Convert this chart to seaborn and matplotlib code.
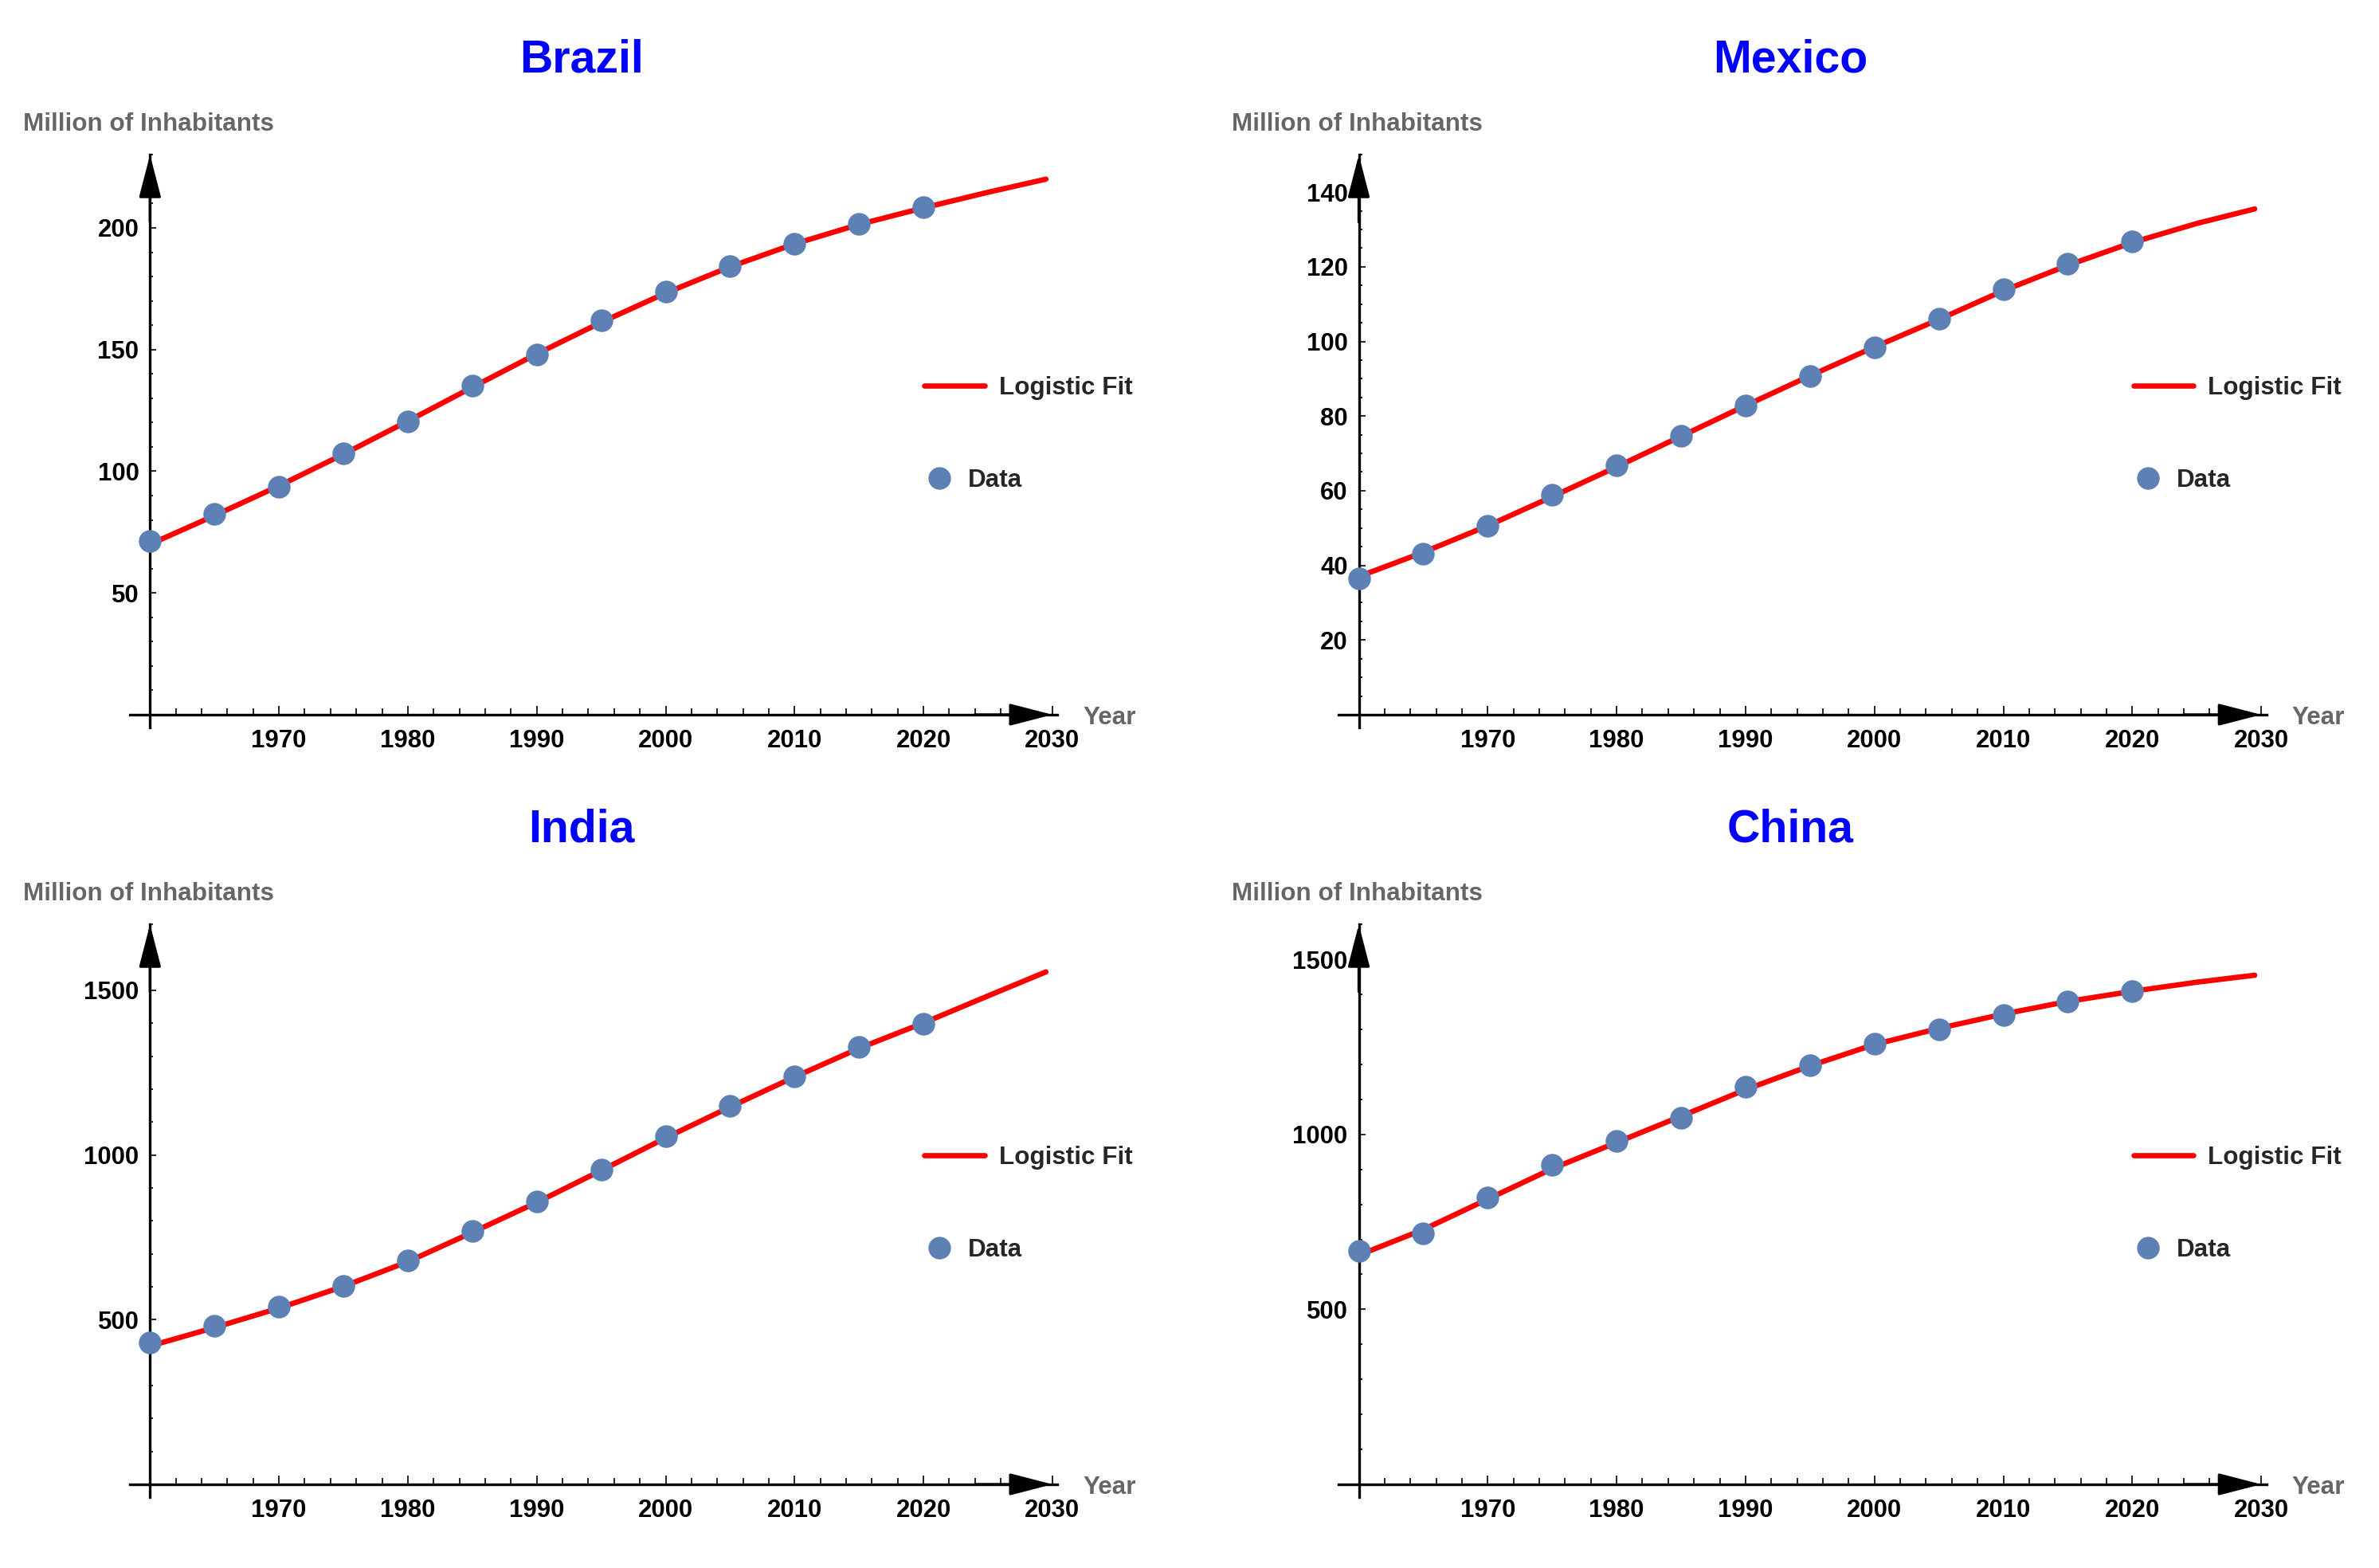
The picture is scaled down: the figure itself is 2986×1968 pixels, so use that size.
#Population of four countries with a logistic fit

#Import libraries
import matplotlib
matplotlib.use('Agg')
import matplotlib.pyplot as plt
import seaborn as sns
from matplotlib.ticker import MultipleLocator
from matplotlib.lines import Line2D

#Data (million of inhabitants)
years = [1960, 1965, 1970, 1975, 1980, 1985, 1990, 1995, 2000, 2005, 2010, 2015, 2020]
fit_years = [1960, 1965, 1970, 1975, 1980, 1985, 1990, 1995, 2000, 2005, 2010,
             2015, 2020, 2025, 2029.5]

brazil_data = [71.3, 82.4, 93.7, 107.5, 120.5, 135.1, 147.9, 161.9, 173.8, 184.3,
               193.5, 201.5, 208.4]
brazil_fit = [70.0, 81.8, 94.0, 107.0, 120.6, 134.5, 148.2, 161.2, 173.2, 184.0,
              193.4, 201.4, 208.2, 214.6, 220.0]

mexico_data = [36.4, 43.1, 50.5, 59.0, 66.9, 74.8, 82.8, 90.7, 98.5, 106.0, 113.9,
               120.8, 126.8]
mexico_fit = [37.0, 43.5, 50.6, 58.4, 66.4, 74.6, 82.8, 90.8, 98.5, 105.9, 113.6,
              120.4, 126.5, 131.6, 135.5]

india_data = [430, 481, 539, 603, 679, 769, 858, 955, 1058, 1148, 1238, 1327, 1399]
india_fit = [420, 476, 535, 601, 676, 765, 856, 953, 1052, 1146, 1237, 1324, 1401,
             1483, 1556]

china_data = [667, 717, 819, 914, 982, 1048, 1137, 1198, 1259, 1300, 1342, 1379, 1410]
china_fit = [655, 728, 815, 902, 977, 1052, 1128, 1196, 1257, 1303, 1344, 1380, 1409,
             1435, 1455]

countries = ['Brazil', 'Mexico', 'India', 'China']
data_sets = [brazil_data, mexico_data, india_data, china_data]
fit_sets = [brazil_fit, mexico_fit, india_fit, china_fit]
y_tops = [230, 150, 1700, 1600]
y_ticks = [[50, 100, 150, 200], [20, 40, 60, 80, 100, 120, 140],
           [500, 1000, 1500], [500, 1000, 1500]]
y_minor = [10, 5, 100, 100]
x_ticks = [1970, 1980, 1990, 2000, 2010, 2020, 2030]

#Style
sns.set_theme(style='white')
plt.rcParams['font.family'] = ['Liberation Sans', 'DejaVu Sans']
plt.rcParams['font.weight'] = 'bold'

W, H = 2986, 1968
fig = plt.figure(figsize=(W / 200, H / 200), dpi=200)


def fx(px):
    return px / W


def fy(py):
    return 1 - py / H


#Panel origins in pixels (where the axes cross)
origins = [(188.3, 897), (1705.5, 897), (188.3, 1863), (1705.5, 1863)]
ppy = 16.18          # pixels per year
x_left, x_right = 1958.45, 2030.4
top_h, below = 702.7, 16

red = '#FF0000'
blue = '#5E81B5'
gray = '#666666'

for name, data, fit, ytop, yt, ym, (ox, oy) in zip(countries, data_sets, fit_sets,
                                                  y_tops, y_ticks, y_minor, origins):
    left = ox - (1960 - x_left) * ppy
    right = ox + (x_right - 1960) * ppy
    top = oy - top_h
    bottom = oy + below
    ax = fig.add_axes([fx(left), fy(bottom), (right - left) / W, (bottom - top) / H])

    sns.lineplot(x=fit_years, y=fit, ax=ax, color=red, linewidth=2.4, zorder=2)
    sns.scatterplot(x=years, y=data, ax=ax, color=blue, s=105, linewidth=0, zorder=3)

    ax.set_xlim(x_left, x_right)
    ax.set_ylim(-ytop * below / top_h, ytop)

    #Axes crossing at (1960, 0)
    ax.spines['left'].set_position(('data', 1960))
    ax.spines['bottom'].set_position(('data', 0))
    ax.spines['top'].set_visible(False)
    ax.spines['right'].set_visible(False)
    for s in ['left', 'bottom']:
        ax.spines[s].set_linewidth(1.2)
        ax.spines[s].set_color('black')

    ax.set_xticks(x_ticks)
    ax.xaxis.set_minor_locator(MultipleLocator(2))
    ax.set_yticks(yt)
    ax.yaxis.set_minor_locator(MultipleLocator(ym))
    ax.tick_params(axis='x', which='both', bottom=True, direction='in', width=0.6,
                   colors='black', labelsize=11.2, pad=6.5)
    ax.tick_params(axis='x', which='major', length=4)
    ax.tick_params(axis='x', which='minor', length=2.8)
    ax.tick_params(axis='y', which='both', left=True, direction='in', width=0.6,
                   colors='black', labelsize=11.2, pad=5)
    ax.tick_params(axis='y', which='major', length=3)
    ax.tick_params(axis='y', which='minor', length=1.3)
    ax.set_xlabel('')
    ax.set_ylabel('')

    #Arrow heads
    head = dict(arrowstyle='-|>,head_length=1.66,head_width=0.43', color='black',
                lw=1.2, shrinkA=0, shrinkB=0, mutation_scale=10)
    ax.annotate('', xy=(2030, 0), xytext=(2024, 0), arrowprops=head,
                annotation_clip=False)
    ax.annotate('', xy=(1960, ytop), xytext=(1960, ytop * 0.88), arrowprops=head,
                annotation_clip=False)

    #Texts
    d = oy - 897
    fig.text(fx(ox + 542), fy(90.6 + d), name, ha='center', va='baseline',
             fontsize=20.6, color='#0000FF', fontweight='bold')
    fig.text(fx(ox - 159), fy(164 + d), 'Million of Inhabitants', ha='left',
             va='baseline', fontsize=11.3, color=gray, fontweight='bold')
    fig.text(fx(ox + 1171), fy(oy + 12.3), 'Year', ha='left', va='baseline',
             fontsize=11.3, color=gray, fontweight='bold')

    #Legends
    leg1 = ax.legend(handles=[Line2D([], [], color=red, lw=2.4)], labels=['Logistic Fit'],
                     loc='center left', bbox_to_anchor=(fx(ox + 972), fy(oy - 410)),
                     bbox_transform=fig.transFigure, frameon=False, handlelength=2.42,
                     handletextpad=0.57, borderpad=0, borderaxespad=0,
                     prop={'size': 11.3, 'weight': 'bold'})
    ax.add_artist(leg1)
    ax.legend(handles=[Line2D([], [], color=blue, marker='o', linestyle='none',
                              markersize=10.2, markeredgewidth=0)],
              labels=['Data'], loc='center left',
              bbox_to_anchor=(fx(ox + 975), fy(oy - 294)),
              bbox_transform=fig.transFigure, frameon=False, handlelength=1.0,
              handletextpad=0.65, borderpad=0, borderaxespad=0,
              prop={'size': 11.3, 'weight': 'bold'})

fig.savefig('out.png', dpi=200, facecolor='white')
